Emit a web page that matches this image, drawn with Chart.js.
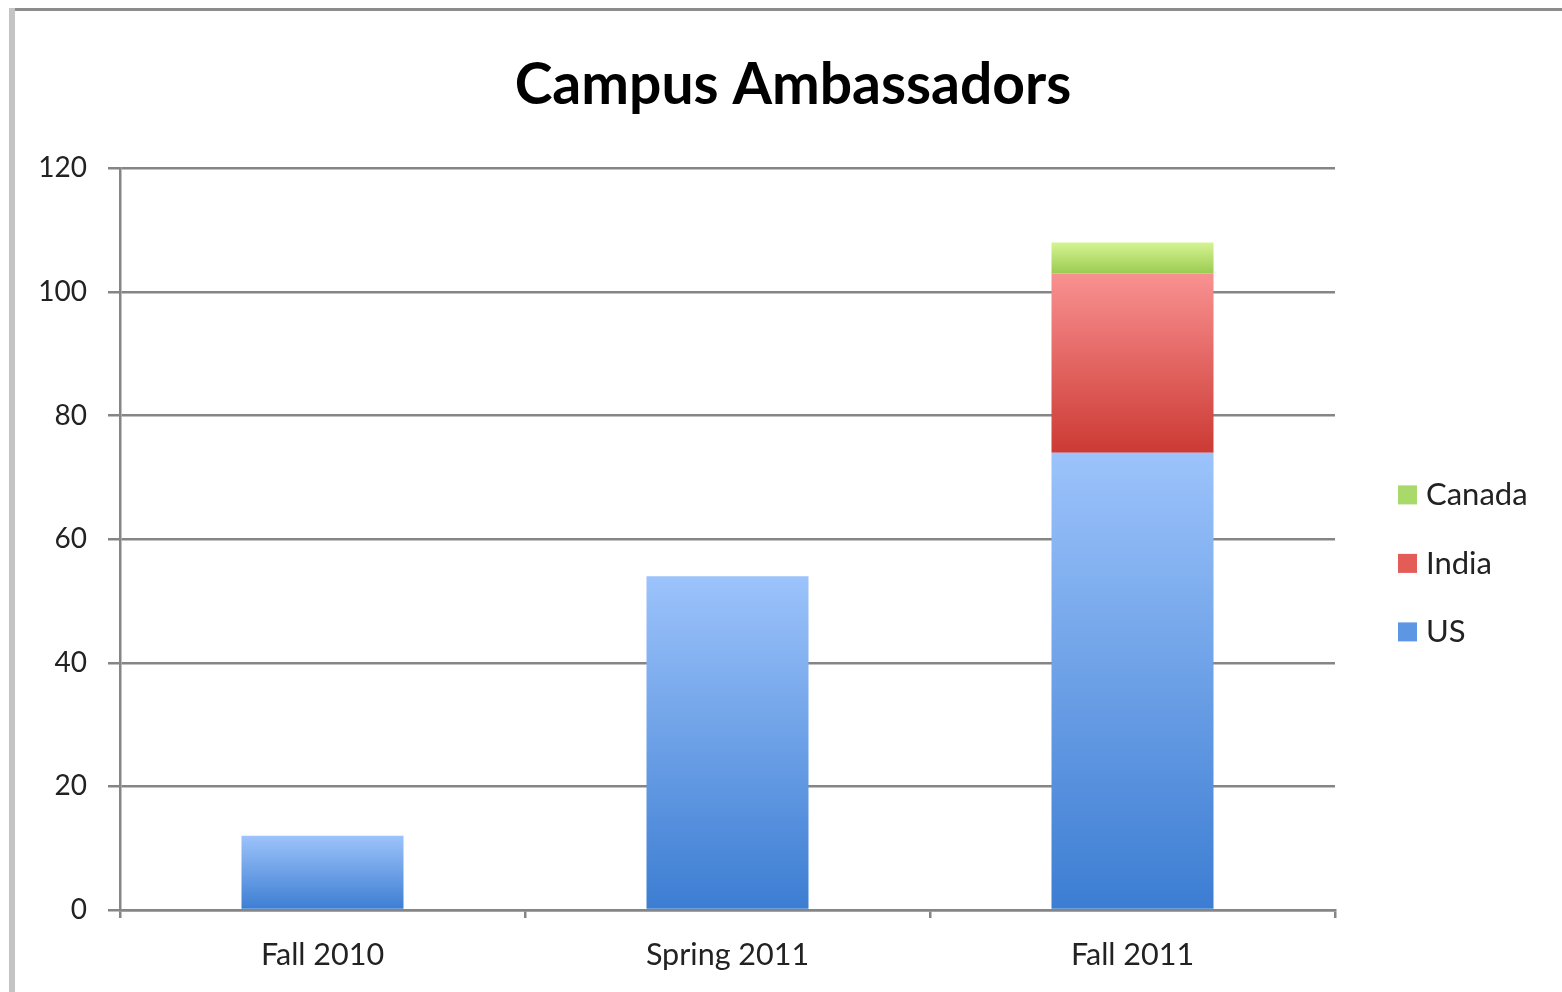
<!DOCTYPE html>
<html>
<head>
<meta charset="utf-8">
<title>Campus Ambassadors</title>
<script src="https://cdn.jsdelivr.net/npm/chart.js@4.4.1/dist/chart.umd.min.js"></script>
<style>
    html, body { margin: 0; padding: 0; background: #fff; }
    #wrap { position: relative; width: 1562px; height: 992px; overflow: hidden; }
    #wrap canvas { position: absolute; left: 0; top: 0; }
    .frameTop { position: absolute; left: 9px; top: 8px; right: 0; height: 3px; background: #8c8c8c; }
    .frameLeft { position: absolute; left: 9px; top: 8px; bottom: 0; width: 6px; background: #c4c4c4; }
</style>
</head>
<body>
<div id="wrap">
    <canvas id="ambassadorsChart" width="1562" height="992"></canvas>
    <div class="frameTop"></div>
    <div class="frameLeft"></div>
</div>
<script>
const categories = ["Fall 2010", "Spring 2011", "Fall 2011"];
const usValues = [12, 54, 74];
const indiaValues = [0, 0, 29];
const canadaValues = [0, 0, 5];
const yTickLabels = [0, 20, 40, 60, 80, 100, 120];

const seriesNames = ["US", "India", "Canada"];
const seriesValues = [usValues, indiaValues, canadaValues];
// light top -> dark bottom, like the old Excel bars
const gradientStops = [
    ["#9cc3fb", "#3c7dd2"],
    ["#f99191", "#cc3a34"],
    ["#d5f493", "#9bcb52"]
];
const legendColors = ["#5d96e2", "#e35c57", "#a9d86b"];

const fontFamily = "Lato, 'Open Sans', sans-serif";
const gridColor = "#858585";

function barGradient(context) {
    const chart = context.chart;
    const stops = gradientStops[context.datasetIndex];
    if (!chart.chartArea || context.type !== "data") return stops[1];
    const i = context.dataIndex;
    let base = 0;
    for (let d = 0; d < context.datasetIndex; d++) base += seriesValues[d][i];
    const top = base + seriesValues[context.datasetIndex][i];
    const y = chart.scales.y;
    const y0 = y.getPixelForValue(top);
    const y1 = y.getPixelForValue(base);
    if (y1 - y0 < 1) return stops[1];
    const g = chart.ctx.createLinearGradient(0, y0, 0, y1);
    g.addColorStop(0, stops[0]);
    g.addColorStop(1, stops[1]);
    return g;
}

// legend on the right, drawn in reverse order (Canada, India, US)
const sideLegend = {
    id: "sideLegend",
    afterDraw(chart) {
        const c = chart.ctx;
        const area = chart.chartArea;
        const x = area.right + 63;
        let y = area.top + 326;
        c.save();
        c.font = "31px " + fontFamily;
        c.textBaseline = "middle";
        c.textAlign = "left";
        for (let d = chart.data.datasets.length - 1; d >= 0; d--) {
            c.fillStyle = legendColors[d];
            c.fillRect(x, y - 9, 19, 19);
            c.fillStyle = "#222";
            c.fillText(chart.data.datasets[d].label, x + 28, y + 1);
            y += 68.5;
        }
        c.restore();
    }
};

const ctx = document.getElementById("ambassadorsChart").getContext("2d");
new Chart(ctx, {
    type: "bar",
    data: {
        labels: categories,
        datasets: seriesNames.map((name, d) => ({
            label: name,
            data: seriesValues[d],
            backgroundColor: barGradient,
            borderWidth: 0,
            categoryPercentage: 1,
            barPercentage: 0.4
        }))
    },
    options: {
        responsive: false,
        animation: false,
        layout: { padding: { left: 24, right: 0, top: 0, bottom: 0 } },
        plugins: {
            legend: { display: false },
            tooltip: { enabled: false },
            title: {
                display: true,
                text: "Campus Ambassadors",
                color: "#000",
                font: { family: fontFamily, size: 57, weight: "bold" },
                padding: { top: 51, bottom: 49 }
            }
        },
        scales: {
            x: {
                stacked: true,
                grid: {
                    offset: true,
                    drawOnChartArea: false,
                    drawTicks: true,
                    tickLength: 8,
                    color: gridColor,
                    lineWidth: 2.5
                },
                border: { color: gridColor, width: 2.5 },
                ticks: {
                    color: "#222",
                    font: { family: fontFamily, size: 30.5 },
                    padding: 19
                },
                afterFit: (s) => { s.height = 82; }
            },
            y: {
                stacked: true,
                min: 0,
                max: 120,
                afterBuildTicks: (s) => { s.ticks = yTickLabels.map(v => ({ value: v })); },
                grid: { color: gridColor, lineWidth: 2.5, tickLength: 12 },
                border: { color: gridColor, width: 2.5 },
                ticks: {
                    color: "#222",
                    font: { family: fontFamily, size: 28 },
                    padding: 21
                },
                afterFit: (s) => { s.width = 96; }
            },
            side: {
                type: "linear",
                position: "right",
                display: true,
                grid: { display: false },
                border: { display: false },
                ticks: { display: false },
                afterFit: (s) => { s.width = 227; }
            }
        }
    },
    plugins: [sideLegend]
});
</script>
</body>
</html>
